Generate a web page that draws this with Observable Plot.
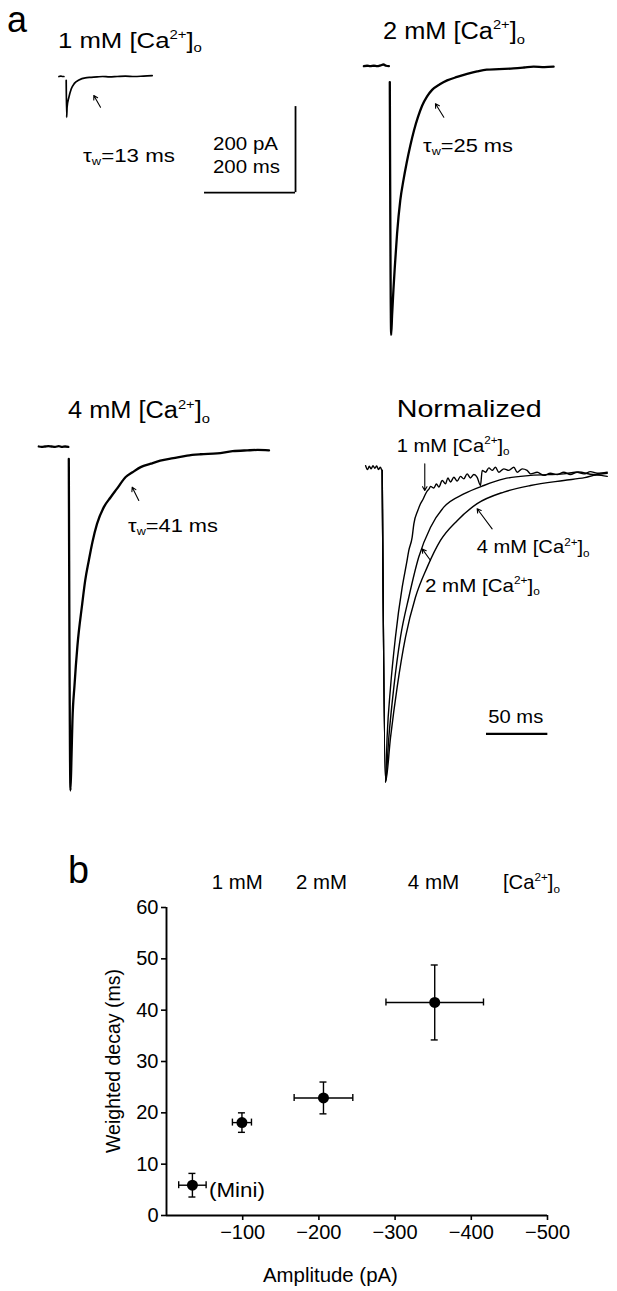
<!DOCTYPE html>
<html><head><meta charset="utf-8">
<script src="https://cdn.jsdelivr.net/npm/d3@7"></script>
<script src="https://cdn.jsdelivr.net/npm/@observablehq/plot@0.6"></script>
<style>
html,body{margin:0;padding:0;background:#fff;}
#fig{position:relative;width:617px;height:1291px;overflow:hidden;font-family:"Liberation Sans",Arial,sans-serif;}
#fig > svg{position:absolute;}
</style></head><body><div id="fig"></div>
<script>
// ---------------- DATA (time in ms, current in pA) ----------------
const mm1Pre = [[-16,0],[-12,1],[-8,0],[-5,0]];
const mm1 = [[0,-9],[1,-95],[2,-71],[6,-48],[11,-29],[18,-16],[28,-8],[42,-3],[55,-2],[68,-1],[80,0],[95,-1],[112,0],[130,1],[150,0],[170,1],[189,2]];
const mm2Pre = [[-57,0],[-50,1],[-43,0],[-35,1],[-28,0],[-20,2],[-14,4],[-8,1],[-2,0]];
const mm2 = [[0,-37],[3,-625],[5,-580],[8,-520],[11,-467],[16,-389],[23,-312],[30,-265],[37,-225],[45,-185],[53,-150],[62,-118],[71,-92],[82,-70],[93,-55],[110,-42],[126,-33],[148,-25],[170,-18],[192,-12],[213,-8],[240,-7],[272,-5],[295,-3],[316,-1],[340,-2],[360,-1]];
const mm4Pre = [[-66,0],[-60,-1],[-52,0],[-45,1],[-38,0],[-30,-1],[-22,1],[-15,-1],[-8,0],[-1,-1]];
const mm4 = [[0,-29],[3.7,-800],[6,-719],[8,-637],[12.5,-556],[19,-463],[29.5,-366],[36,-312],[44,-265],[52,-222],[62,-180],[77,-141],[92,-118],[106,-98],[125,-71],[140,-60],[158,-48],[180,-40],[201,-33],[230,-27],[260,-21],[290,-18],[326,-16],[360,-11],[392,-9],[415,-8],[440,-9]];
// normalized traces (time ms, fraction of peak)
const normPre = [[-13.5,0.008],[-12,-0.004],[-10.5,0.006],[-9,-0.002],[-7.5,0.008],[-6,0],[-4.5,0.007],[-3,-0.004],[-1.5,0.003],[-0.5,-0.005]];
const norm1 = [[0,-0.007],[2.7,-1],[4,-0.857],[6.8,-0.697],[10.8,-0.538],[16.3,-0.379],[19.8,-0.304],[21.7,-0.262],[24.4,-0.22],[25.8,-0.177],[29,-0.135],[31.2,-0.113],[33.4,-0.098],
 [35.3,-0.082],[36.6,-0.073],[38.2,-0.066],[39.4,-0.058],[42.1,-0.063],[44.2,-0.05],[46.2,-0.06],[48.9,-0.039],[51.6,-0.05],[53.5,-0.031],[55.7,-0.044],[58.4,-0.029],[61.1,-0.041],[63.8,-0.026],[66.5,-0.034],[69.2,-0.018],[71.9,-0.031],[74.7,-0.02],[77.4,-0.029],[80.1,-0.055],[81.5,-0.007],[84.2,-0.013],[86.9,0.001],[89.6,-0.007],[92.3,0.003],[95,-0.013],[99.1,-0.002],[103.2,-0.007],[107.3,0.003],[110,-0.013],[114.1,-0.002],[118.1,-0.007],[120.9,-0.018],[126.3,-0.013],[131.7,-0.023],[137.1,-0.016],[142.6,-0.02],[148,-0.013],[153.4,-0.02],[158.9,-0.013],[164.3,-0.018],[169.7,-0.011],[175.2,-0.016],[183.4,-0.013]];
const norm2 = [[0,-0.007],[2.7,-1],[5.4,-0.857],[9.5,-0.697],[14.9,-0.538],[21.7,-0.411],[29.8,-0.283],[39.4,-0.188],[50.2,-0.124],[66.5,-0.082],[82.8,-0.055],[99.1,-0.034],[120.9,-0.023],[148,-0.018],[160,-0.012],[172,-0.02],[183.4,-0.016]];
const norm4 = [[0,-0.007],[2.7,-1],[6.8,-0.857],[12.2,-0.697],[19,-0.538],[27.1,-0.411],[36.7,-0.315],[47.5,-0.23],[61.1,-0.167],[77.4,-0.113],[99.1,-0.076],[120.9,-0.055],[148,-0.039],[165,-0.03],[175,-0.022],[183.4,-0.026]];
// annotation arrows (data units of each trace panel)
const arrows1 = [{x1:75.4,y1:-71.4,x2:60.7,y2:-44.2}];
const arrows2 = [{x1:118.7,y1:-118.6,x2:100.4,y2:-87.4}];
const arrows4 = [{x1:153.8,y1:-125.6,x2:139.3,y2:-94.7}];
const arrowsN = [{x1:34.7,y1:0.014,x2:34.7,y2:-0.071},{x1:89.6,y1:-0.193,x2:77.4,y2:-0.129},{x1:39.4,y1:-0.294,x2:32.6,y2:-0.257}];
// scale bars
const barPA = 200, barMS = 200, barNormMS = 50;

// panel b
const groups = ["Mini","1 mM","2 mM","4 mM"];
const amplitude = [-34,-99,-206,-352];
const amplitudeErr = [18,12.5,38.5,64];
const decay = [5.9,18.1,22.9,41.5];
const decayErr = [2.3,1.9,3.1,7.3];
const xTicks = [-100,-200,-300,-400,-500];
const yTicks = [0,10,20,30,40,50,60];

// ---------------- LAYOUT ----------------
const fig = document.getElementById("fig");
const KX = 0.455, KY = 0.43;  // px per ms, px per pA (scale bar)

function tracePlot({left, top, width, height, ox, oy, kx, ky, marks}) {
  const p = Plot.plot({
    width, height, margin: 0,
    x: {domain: [(left - ox) / kx, (left + width - ox) / kx], axis: null},
    y: {domain: [-(top + height - oy) / ky, -(top - oy) / ky], axis: null},
    style: {background: "transparent", overflow: "visible"},
    marks
  });
  p.style.position = "absolute"; p.style.left = left + "px"; p.style.top = top + "px";
  fig.appendChild(p);
}
const ln = (arr, sw) => Plot.line(arr, {x: d => d[0], y: d => d[1], curve: "monotone-x", stroke: "black", strokeWidth: sw, strokeLinejoin: "round"});
const arr = (a) => Plot.arrow(a, {x1: "x1", y1: "y1", x2: "x2", y2: "y2", stroke: "black", strokeWidth: 1.1, headLength: 6});

// 1 mM
const bx = 504, by = -270;
tracePlot({left: 40, top: 60, width: 270, height: 150, ox: 65.7, oy: 76, kx: KX, ky: KY, marks: [
  ln(mm1Pre, 1.7), ln(mm1, 1.7), arr(arrows1),
  Plot.ruleX([bx], {y1: by, y2: by + barPA, strokeWidth: 1.8}),
  Plot.ruleY([by], {x1: bx - barMS, x2: bx, strokeWidth: 1.8})
]});
// 2 mM
tracePlot({left: 350, top: 50, width: 220, height: 300, ox: 389.3, oy: 65.7, kx: KX, ky: KY, marks: [
  ln(mm2Pre, 2.3), ln(mm2, 2.3), arr(arrows2)
]});
// 4 mM
tracePlot({left: 20, top: 430, width: 270, height: 380, ox: 68.3, oy: 446, kx: KX, ky: KY, marks: [
  ln(mm4Pre, 2.3), ln(mm4, 2.3), arr(arrows4)
]});
// Normalized
tracePlot({left: 350, top: 450, width: 267, height: 350, ox: 381.7, oy: 467.7, kx: 1.227, ky: 314, marks: [
  ln(normPre, 1.4), ln(norm4, 1.4), ln(norm2, 1.4), ln(norm1, 1.4), arr(arrowsN),
  Plot.ruleY([-0.846], {x1: 85, x2: 85 + barNormMS, strokeWidth: 2.4})
]});

// panel b
const rows = groups.map((g, i) => ({g, a: amplitude[i], ae: amplitudeErr[i], d: decay[i], de: decayErr[i]}));
const pb = Plot.plot({
  width: 617, height: 421,
  marginTop: 37, marginBottom: 76, marginLeft: 166, marginRight: 70,
  x: {domain: [0, -500]}, y: {domain: [0, 60]},
  style: {background: "transparent", fontFamily: "'Liberation Sans', Arial, sans-serif", fontSize: "20px", color: "black"},
  marks: [
    Plot.axisX({ticks: xTicks, tickSize: 5, tickPadding: 4, fontSize: 20, strokeWidth: 1.6, label: null, tickFormat: d => "\u2212" + Math.abs(d)}),
    Plot.axisY({ticks: yTicks, tickSize: 5, tickPadding: 3, fontSize: 20, strokeWidth: 1.6, label: null}),
    Plot.ruleX([0], {strokeWidth: 1.9}),
    Plot.ruleY([0], {strokeWidth: 1.9}),
    Plot.link(rows, {x1: d => d.a - d.ae, x2: d => d.a + d.ae, y1: "d", y2: "d", stroke: "black", strokeWidth: 1.4}),
    Plot.link(rows, {x1: "a", x2: "a", y1: d => d.d - d.de, y2: d => d.d + d.de, stroke: "black", strokeWidth: 1.4}),
    Plot.ruleX(rows, {x: d => d.a - d.ae, y1: "d", y2: "d", insetTop: -3.5, insetBottom: -3.5, strokeWidth: 1.4}),
    Plot.ruleX(rows, {x: d => d.a + d.ae, y1: "d", y2: "d", insetTop: -3.5, insetBottom: -3.5, strokeWidth: 1.4}),
    Plot.ruleY(rows, {y: d => d.d - d.de, x1: "a", x2: "a", insetLeft: -3.5, insetRight: -3.5, strokeWidth: 1.4}),
    Plot.ruleY(rows, {y: d => d.d + d.de, x1: "a", x2: "a", insetLeft: -3.5, insetRight: -3.5, strokeWidth: 1.4}),
    Plot.dot(rows, {x: "a", y: "d", r: 5.5, fill: "black", stroke: null})
  ]
});
pb.style.position = "absolute"; pb.style.left = "0px"; pb.style.top = "870px";
fig.appendChild(pb);

// ---------------- TEXT OVERLAY ----------------
const ca = (pre) => [[pre + "[Ca"], ["2+", "sup"], ["]"], ["o", "sub"]];
const tau = (v) => [["\u03C4"], ["w", "sub"], ["=" + v + " ms"]];
const labels = [
  {p: [["a"]], x: 7, y: 32, s: 37, w: 20},
  {p: ca("1 mM "), x: 58, y: 48, s: 22, w: 144},
  {p: tau(13), x: 83, y: 161.7, s: 18, w: 92},
  {p: [["200 pA"]], x: 213, y: 150, s: 18, w: 65},
  {p: [["200 ms"]], x: 213, y: 173.3, s: 18, w: 67},
  {p: ca("2 mM "), x: 383, y: 39, s: 23, w: 142},
  {p: tau(25), x: 423, y: 151.7, s: 18, w: 90},
  {p: ca("4 mM "), x: 68, y: 418.3, s: 23, w: 142},
  {p: tau(41), x: 128, y: 531.7, s: 18, w: 90},
  {p: [["Normalized"]], x: 396.7, y: 416.7, s: 24, w: 145},
  {p: ca("1 mM "), x: 396.7, y: 451.7, s: 18, w: 113},
  {p: ca("4 mM "), x: 476.7, y: 553.3, s: 18, w: 113},
  {p: ca("2 mM "), x: 425, y: 591.7, s: 18, w: 115},
  {p: [["50 ms"]], x: 488.3, y: 723, s: 18, w: 55},
  {p: [["b"]], x: 68, y: 883, s: 38, w: 21},
  {p: [["1 mM"]], x: 211.7, y: 889, s: 20, w: 51},
  {p: [["2 mM"]], x: 296, y: 889, s: 20, w: 51},
  {p: [["4 mM"]], x: 407.7, y: 889, s: 20, w: 51.6},
  {p: [["[Ca"], ["2+", "sup"], ["]"], ["o", "sub"]], x: 503, y: 889, s: 20, w: 57},
  {p: [["(Mini)"]], x: 209, y: 1197, s: 20, w: 56},
  {p: [["Amplitude (pA)"]], x: 263, y: 1281.7, s: 20, w: 135},
  {p: [["Weighted decay (ms)"]], x: 120, y: 1061, s: 19.5, rot: true}
];
const ov = d3.select(fig).append("svg").attr("width", 617).attr("height", 1291)
  .style("left", "0px").style("top", "0px").style("pointer-events", "none")
  .attr("font-family", "'Liberation Sans', Arial, sans-serif").attr("fill", "black");
for (const L of labels) {
  const t = ov.append("text").attr("font-size", L.s);
  let cur = 0;
  for (const [str, kind] of L.p) {
    const off = kind === "sup" ? -0.42 * L.s : kind === "sub" ? 0.2 * L.s : 0;
    const ts = t.append("tspan").text(str).attr("dy", off - cur);
    if (kind) ts.attr("font-size", 0.58 * L.s);
    cur = off;
  }
  if (L.rot) {
    t.attr("text-anchor", "middle").attr("transform", `translate(${L.x},${L.y}) rotate(-90)`);
  } else {
    const w = t.node().getComputedTextLength();
    const sx = L.w ? L.w / w : 1;
    t.attr("transform", `translate(${L.x},${L.y}) scale(${sx},1)`);
  }
}
</script></body></html>
